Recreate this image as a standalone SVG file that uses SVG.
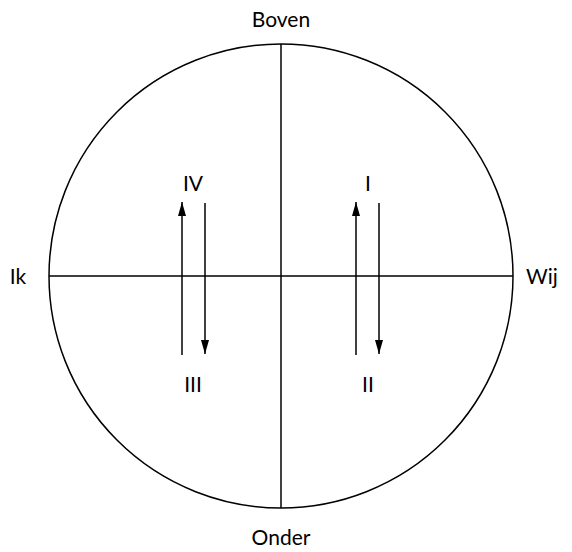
<svg xmlns="http://www.w3.org/2000/svg" width="572" height="552" viewBox="0 0 572 552">
<defs>
<marker id="ah" viewBox="0 0 10 10" refX="10" refY="5" markerWidth="14" markerHeight="8" markerUnits="userSpaceOnUse" orient="auto" preserveAspectRatio="none"><path d="M0,0 L10,5 L0,10 z" fill="#000"/></marker>
<style>
.l{stroke:#000;stroke-width:1.5;fill:none}
.a{stroke:#000;stroke-width:1.5;fill:none;marker-end:url(#ah)}
text{font-family:Lato,"Open Sans",sans-serif;font-size:21px;fill:#000;text-anchor:middle}
</style>
</defs>
<rect width="572" height="552" fill="#fff"/>
<g id="frame">
<circle class="l" cx="281" cy="276" r="232"/>
<line class="l" x1="49" y1="276" x2="513" y2="276"/>
<line class="l" x1="281" y1="44" x2="281" y2="508"/>
</g>
<g id="connectors">
<line class="a" x1="182" y1="355" x2="182" y2="202"/>
<line class="a" x1="205" y1="203" x2="205" y2="354"/>
<line class="a" x1="356" y1="355" x2="356" y2="202"/>
<line class="a" x1="379" y1="203" x2="379" y2="354"/>
</g>
<g id="labels">
<text x="281" y="27">Boven</text>
<text x="281" y="545">Onder</text>
<text x="18" y="284">Ik</text>
<text x="542" y="284">Wij</text>
<text x="193" y="191">IV</text>
<text x="193" y="392">III</text>
<text x="368" y="191">I</text>
<text x="368" y="392">II</text>
</g>
</svg>
